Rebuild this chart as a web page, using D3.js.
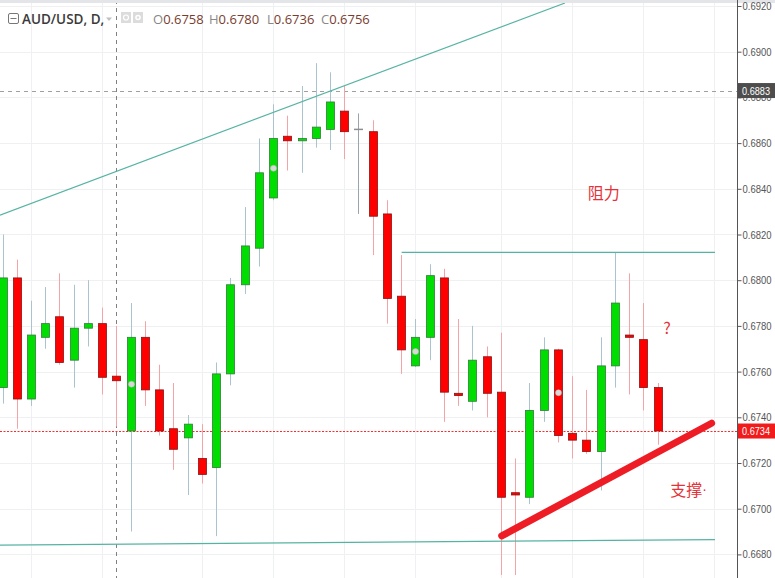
<!DOCTYPE html>
<html>
<head>
<meta charset="utf-8">
<script src="https://cdn.jsdelivr.net/npm/d3@7"></script>
<style>
  html,body{margin:0;padding:0;background:#fff;}
  svg{display:block;font-family:"Liberation Sans",Arial,sans-serif;}
</style>
</head>
<body>
<div id="chart"></div>
<script>
// ---- data ----
const bars   = d3.range(47); // bar index (daily candles)
const opens  = [0.6753,0.6801,0.6748,0.6775,0.6784,0.6765,0.6779,0.6781,0.6758,0.6734,
                0.6775,0.6752,0.6735,0.6731,0.6722,0.6718,0.6759,0.6798,0.6814,0.6836,
                0.6863,0.6861,0.6862,0.6866,0.6874,0.6866,0.6865,0.6829,0.6793,0.67625,
                0.6775,0.6801,0.67505,0.6747,0.67665,0.6751,0.6707,0.6705,0.6743,0.67695,
                0.6733,0.6730,0.6725,0.67625,0.6776,0.6774,0.6753];
const highs  = [0.6820,0.6809,0.6791,0.6797,0.6803,0.6798,0.6800,0.6788,0.6780,0.6790,
                0.6782,0.6763,0.6755,0.6741,0.6737,0.6764,0.6801,0.6832,0.6862,0.6877,
                0.6872,0.6885,0.6895,0.6891,0.6885,0.6873,0.6870,0.6835,0.6811,0.6783,
                0.6807,0.6805,0.6783,0.6780,0.6771,0.6777,0.6722,0.6755,0.6775,0.6770,
                0.6758,0.6752,0.6775,0.6812,0.6803,0.6790,0.6755];
const lows   = [0.6746,0.6735,0.6745,0.6770,0.6763,0.6753,0.6771,0.6750,0.6736,0.6690,
                0.6745,0.6732,0.6717,0.6706,0.6711,0.6688,0.6754,0.6794,0.6806,0.6835,
                0.6848,0.6847,0.6858,0.6857,0.6853,0.6829,0.6811,0.6781,0.6759,0.6762,
                0.6765,0.6738,0.6745,0.6743,0.6740,0.6671,0.6671,0.6702,0.6738,0.6729,
                0.6722,0.6724,0.6708,0.6753,0.6750,0.6743,0.6728];
const closes = [0.6801,0.6748,0.6776,0.6781,0.6764,0.6779,0.6781,0.67575,0.6756,0.6775,
                0.6752,0.6734,0.6726,0.6737,0.6715,0.6759,0.6798,0.6815,0.6847,0.6862,
                0.6861,0.6862,0.6867,0.6878,0.6865,0.6866,0.6828,0.6792,0.67695,0.6775,
                0.6802,0.6751,0.67495,0.6765,0.67505,0.6705,0.6706,0.6743,0.67695,0.6732,
                0.6730,0.6725,0.67625,0.6790,0.6775,0.6753,0.6734];
const markerBars = [9,19,29,39];
const priceTicks = [0.6680,0.6700,0.6720,0.6740,0.6760,0.6780,0.6800,0.6820,0.6840,0.6860,0.6880,0.6900,0.6920];
const gridBars = [2,7,14,19,24,29,35,40,45,50];
const crosshairBar = 8;
const hLinePrice = 0.6883;
const lastPrice = 0.6734;
// drawings: [bar, price] pairs
const channelTop    = [[-0.18,0.68285],[39.5,0.69213]];
const channelBottom = [[-0.18,0.66841],[50.04,0.66865]];
const resistance    = [[28.03,0.68122],[50.04,0.68122]];
const support       = [[35.06,0.66881],[49.8,0.67374]];
const notes = [
  {text:"阻力", dot:"", bar:41.1, price:0.68385},
  {text:"?",   dot:"", bar:46.4, price:0.67795},
  {text:"支撑", dot:"·", bar:46.9, price:0.67085}
];
const legendName = "AUD/USD, D,";
const legendOHLC = [["O","0.6758"],["H","0.6780"],["L","0.6736"],["C","0.6756"]];

// ---- chart ----
const W = 775, H = 578, plotR = 737;
const svg = d3.select("#chart").append("svg").attr("width", W).attr("height", H);

const x = d3.scaleLinear().domain([0, 46]).range([2.5, 657.5]);
const y = d3.scaleLinear().domain([0.6680, 0.6920]).range([554.4, 6]);

svg.append("defs").append("clipPath").attr("id","plot")
  .append("rect").attr("x",0).attr("y",3).attr("width",plotR).attr("height",H-3);

// grid
const grid = svg.append("g");
grid.selectAll(".vg").data(gridBars).join("line")
  .attr("x1", d => Math.round(x(d))+0.5).attr("x2", d => Math.round(x(d))+0.5)
  .attr("y1", 0).attr("y2", H).attr("stroke", "#eef0f2").attr("stroke-width",1);
grid.selectAll(".hg").data(priceTicks).join("line")
  .attr("x1", 0).attr("x2", plotR)
  .attr("y1", d => Math.round(y(d))+0.5).attr("y2", d => Math.round(y(d))+0.5)
  .attr("stroke", "#eef0f2").attr("stroke-width",1);

// top band
svg.append("rect").attr("x",0).attr("y",0).attr("width",W).attr("height",3).attr("fill","#e3e5e8");

const plot = svg.append("g").attr("clip-path","url(#plot)");

// horizontal dashed price line
plot.append("line").attr("x1",0).attr("x2",plotR)
  .attr("y1", Math.round(y(hLinePrice))+0.5).attr("y2", Math.round(y(hLinePrice))+0.5)
  .attr("stroke","#a0a0a0").attr("stroke-dasharray","4,4");

// crosshair
plot.append("line").attr("x1", Math.round(x(crosshairBar))+0.5).attr("x2", Math.round(x(crosshairBar))+0.5)
  .attr("y1",0).attr("y2",H).attr("stroke","#808080").attr("stroke-dasharray","4,4");

// last price dotted line
plot.append("line").attr("x1",0).attr("x2",plotR)
  .attr("y1", Math.round(y(lastPrice))+0.5).attr("y2", Math.round(y(lastPrice))+0.5)
  .attr("stroke","#ff2a2a").attr("stroke-dasharray","2,1.5");

// candles
const data = bars.map(i => ({i, o:opens[i], h:highs[i], l:lows[i], c:closes[i]}));
const col = d => d.c > d.o ? "up" : (d.c < d.o ? "down" : "flat");
const wickColor = {up:"#a9c3cf", down:"#f4a3a6", flat:"#9aa5ab"};
const fillColor = {up:"#00dd00", down:"#ff0000", flat:"#888"};
const strokeColor = {up:"#2f7d37", down:"#8a1111", flat:"#888"};
const bw = 9;

plot.selectAll(".wick").data(data).join("line")
  .attr("x1", d => Math.round(x(d.i))+0.5).attr("x2", d => Math.round(x(d.i))+0.5)
  .attr("y1", d => y(d.h)).attr("y2", d => y(d.l))
  .attr("stroke", d => wickColor[col(d)]).attr("stroke-width",1);

plot.selectAll(".body").data(data.filter(d => col(d) !== "flat")).join("rect")
  .attr("x", d => Math.round(x(d.i)) - 4 + 0.5)
  .attr("y", d => y(Math.max(d.o,d.c)))
  .attr("width", bw-1)
  .attr("height", d => Math.max(1.5, Math.abs(y(d.o)-y(d.c))))
  .attr("fill", d => fillColor[col(d)])
  .attr("stroke", d => strokeColor[col(d)]).attr("stroke-width",0.8);

plot.selectAll(".doji").data(data.filter(d => col(d) === "flat")).join("line")
  .attr("x1", d => Math.round(x(d.i)) - 4).attr("x2", d => Math.round(x(d.i)) + 5)
  .attr("y1", d => y(d.o)).attr("y2", d => y(d.o))
  .attr("stroke","#8e8e8e").attr("stroke-width",1.5);

plot.selectAll(".mk").data(markerBars).join("circle")
  .attr("cx", d => Math.round(x(d))+0.5).attr("cy", d => y((opens[d]+closes[d])/2))
  .attr("r", 3).attr("fill","#d8d8d8").attr("stroke","#bbb").attr("stroke-width",0.5);

// drawings
const line = d3.line().x(d => x(d[0])).y(d => y(d[1]));
[channelTop, channelBottom, resistance].forEach(p => {
  plot.append("path").attr("d", line(p)).attr("fill","none")
    .attr("stroke","#56b3a3").attr("stroke-width",1.2);
});
plot.append("path").attr("d", line(support)).attr("fill","none")
  .attr("stroke","#ee1c25").attr("stroke-width",7).attr("stroke-linecap","round");

const nt = plot.selectAll(".note").data(notes).join("text")
  .attr("x", d => x(d.bar)).attr("y", d => y(d.price))
  .attr("dominant-baseline","central")
  .attr("font-family","'Noto Sans CJK SC','Noto Sans',sans-serif")
  .attr("font-size", 16).attr("fill","#e53238");
nt.append("tspan").text(d => d.text);
nt.append("tspan").attr("font-family","'Liberation Sans',Arial,sans-serif").attr("font-size",14).text(d => d.dot);

// right axis
svg.append("rect").attr("x",plotR).attr("y",3).attr("width",W-plotR).attr("height",H-3).attr("fill","#fff");
const axis = svg.append("g").attr("transform",`translate(${plotR+0.5},0)`)
  .call(d3.axisRight(y).tickValues(priceTicks).tickSize(4).tickPadding(1).tickFormat(d3.format(".4f")));
axis.select(".domain").remove();
axis.selectAll(".tick line").attr("stroke","#555");
axis.selectAll(".tick text").attr("fill","#555").attr("font-size",11)
  .attr("textLength",29).attr("lengthAdjust","spacingAndGlyphs")
  .attr("font-family","'Liberation Sans',Arial,sans-serif");
svg.append("line").attr("x1",plotR+0.5).attr("x2",plotR+0.5).attr("y1",0).attr("y2",H)
  .attr("stroke","#555").attr("stroke-width",1);

// price labels
function priceLabel(v, bg){
  const g = svg.append("g").attr("transform",`translate(${plotR+1},${y(v)})`);
  g.append("rect").attr("x",0).attr("y",-7.5).attr("width",W-plotR-1).attr("height",15).attr("fill",bg);
  g.append("text").attr("x",4).attr("y",0).attr("dominant-baseline","central")
    .attr("fill","#fff").attr("font-size",10.5).attr("font-family","'Liberation Sans',Arial,sans-serif")
    .attr("textLength",28).attr("lengthAdjust","spacingAndGlyphs")
    .text(d3.format(".4f")(v));
}
priceLabel(hLinePrice, "#4d4d4d");
priceLabel(lastPrice, "#f21b1b");

// legend
const lg = svg.append("g");
lg.append("rect").attr("x",8.5).attr("y",13.5).attr("width",10).attr("height",10).attr("rx",1.5)
  .attr("fill","none").attr("stroke","#777");
lg.append("line").attr("x1",10.5).attr("x2",16.5).attr("y1",18.5).attr("y2",18.5).attr("stroke","#777");
lg.append("text").attr("x",22).attr("y",24).attr("font-family","'Open Sans','Liberation Sans',sans-serif")
  .attr("font-size",13.5).attr("font-weight",600).attr("fill","#3a3a3a").text(legendName);
lg.append("path").attr("d","M106,17.5 L112,17.5 L109,21 Z").attr("fill","#c0c0c0");
lg.append("rect").attr("x",121).attr("y",12).attr("width",10).attr("height",11).attr("fill","#dcdcdc");
lg.append("circle").attr("cx",126).attr("cy",17.5).attr("r",2.5).attr("fill","none").attr("stroke","#fff").attr("stroke-width",1.2);
lg.append("rect").attr("x",133).attr("y",12).attr("width",10).attr("height",11).attr("fill","#dcdcdc");
lg.append("circle").attr("cx",138).attr("cy",17.5).attr("r",2.8).attr("fill","#fff");
lg.append("circle").attr("cx",138).attr("cy",17.5).attr("r",1.2).attr("fill","#dcdcdc");
const lx = [153, 209, 267, 321];
legendOHLC.forEach((p, k) => {
  const t = lg.append("text").attr("x", lx[k]).attr("y", 24)
    .attr("font-family","'Open Sans','Liberation Sans',sans-serif").attr("font-size",13);
  t.append("tspan").attr("fill","#888").text(p[0]);
  t.append("tspan").attr("fill","#7a3c2e").text(p[1]);
});
</script>
</body>
</html>
